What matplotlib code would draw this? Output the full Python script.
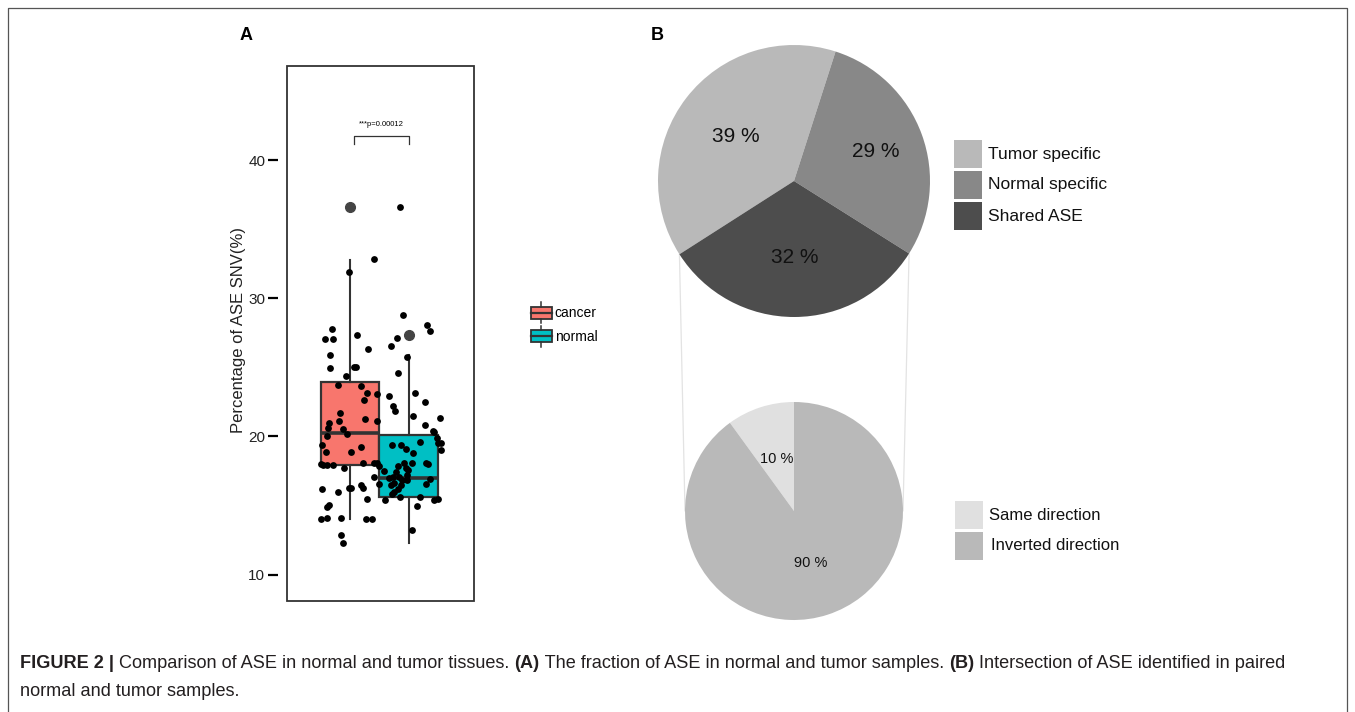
import matplotlib
matplotlib.use("Agg")
import matplotlib.pyplot as plt
from matplotlib.legend_handler import HandlerBase
from matplotlib.patches import Patch, Rectangle, ConnectionPatch
from matplotlib.lines import Line2D
import numpy as np

plt.rcParams["font.family"] = ["Liberation Sans", "DejaVu Sans"]

W, H = 1355, 712

# Panel A: share of ASE SNVs per sample
groups = ["cancer", "normal"]
group_colors = ["#F8766D", "#00BFC4"]
box_q1 = [17.95, 15.62]
box_med = [20.25, 17.00]
box_q3 = [23.92, 20.13]
box_lo = [14.05, 12.33]
box_hi = [32.78, 25.87]
box_out = [[36.63], [27.34]]

point_x = [0.85, 0.41, -0.03, 0.90, 1.31, 1.36, -0.31, -0.44, -0.29, 0.11,
           0.80, -0.35, -0.34, 0.06, 0.10, -0.08, 0.30, 0.69, 0.98, 0.81,
           -0.21, 0.19, 0.67, 1.11, 0.28, 0.45, 0.24, 1.28, 0.73, 0.77,
           1.08, 1.53, -0.18, 0.25, -0.19, -0.36, 0.46, -0.38, -0.13, -0.40,
           -0.06, 1.28, 1.41, 1.43, 1.49, 1.50, 1.55, 1.56, 1.20, 0.72,
           0.87, 0.95, 1.07, -0.48, 0.18, -0.42, 0.01, -0.51, -0.46, -0.40,
           -0.30, -0.11, 0.21, 0.41, 0.46, 0.49, 0.58, 1.30, 1.34, 0.92,
           0.95, 1.05, 0.99, 0.82, 0.79, 0.98, 0.40, 0.66, 0.73, 0.84,
           0.75, 0.89, 0.97, 1.36, 0.50, 0.69, 0.87, 1.30, 0.81, 0.75,
           0.71, 0.86, 0.59, 1.20, 1.44, 1.50, -0.48, -0.21, -0.03, 0.02,
           0.18, 0.21, 0.29, -0.40, -0.36, -0.50, -0.40, -0.16, 0.27, 0.38,
           1.15, -0.16, -0.13, 1.05]
point_y = [36.63, 32.81, 31.90, 28.81, 28.05, 27.65, 27.77, 27.04, 27.04, 27.37,
           27.16, 25.87, 24.94, 25.06, 25.06, 24.35, 26.33, 26.51, 25.75, 24.61,
           23.70, 23.65, 22.96, 23.11, 23.14, 23.04, 22.66, 22.46, 22.20, 21.85,
           21.49, 21.34, 21.70, 21.27, 21.14, 20.96, 21.09, 20.61, 20.51, 20.05,
           20.20, 20.81, 20.38, 20.30, 19.92, 19.54, 19.52, 18.99, 19.57, 19.42,
           19.42, 19.11, 18.78, 19.37, 19.24, 18.86, 18.91, 18.03, 17.92, 17.92,
           17.92, 17.70, 18.05, 18.10, 18.05, 17.85, 17.52, 18.05, 18.03, 18.05,
           17.75, 18.10, 17.59, 17.90, 17.42, 17.19, 17.04, 17.01, 17.04, 17.09,
           16.61, 16.84, 16.84, 16.89, 16.58, 16.51, 16.51, 16.58, 16.18, 16.00,
           15.82, 15.62, 15.42, 15.65, 15.39, 15.47, 16.18, 16.00, 16.28, 16.28,
           16.48, 16.25, 15.49, 14.89, 15.06, 14.05, 14.13, 14.13, 14.00, 14.00,
           14.99, 12.84, 12.33, 13.24]
p_label = "***p=0.00012"

# Panel B: overlap of ASE between paired samples
overlap_labels = ["Tumor specific", "Normal specific", "Shared ASE"]
overlap_pct = [39, 29, 32]
overlap_colors = ["#b9b9b9", "#888888", "#4d4d4d"]
shared_labels = ["Same direction", "Inverted direction"]
shared_pct = [10, 90]
shared_colors = ["#e0e0e0", "#b9b9b9"]


def px_rect(x0, y0, x1, y1):
    return [x0 / W, 1 - y1 / H, (x1 - x0) / W, (y1 - y0) / H]


class BoxKeyHandler(HandlerBase):
    def create_artists(self, legend, orig_handle, xdescent, ydescent,
                       width, height, fontsize, trans):
        x0, y0 = -xdescent, -ydescent
        cx, cy = x0 + width / 2, y0 + height / 2
        box = Rectangle((x0, y0 + 0.22 * height), width, 0.56 * height,
                        facecolor=orig_handle.get_facecolor(),
                        edgecolor="#333333", lw=1.3, transform=trans)
        med = Line2D([x0, x0 + width], [cy, cy], color="#333333", lw=1.6, transform=trans)
        wl = Line2D([cx, cx], [y0, y0 + 0.22 * height], color="#333333", lw=1.1, transform=trans)
        wh = Line2D([cx, cx], [y0 + 0.78 * height, y0 + height], color="#333333", lw=1.1, transform=trans)
        return [box, med, wl, wh]


fig = plt.figure(figsize=(W / 100, H / 100), dpi=100)

# outer frame
fig.add_artist(Line2D([8 / W, 8 / W, 1347 / W, 1347 / W],
                      [0, 1 - 8 / H, 1 - 8 / H, 0],
                      transform=fig.transFigure, color="#555555", lw=0.9))

# ---- panel A ----
ax = fig.add_axes(px_rect(287, 66, 474, 601))
stats = []
for i in range(len(groups)):
    stats.append(dict(med=box_med[i], q1=box_q1[i], q3=box_q3[i],
                      whislo=box_lo[i], whishi=box_hi[i], fliers=box_out[i]))
bp = ax.bxp(stats, positions=[0, 1], widths=1.0, patch_artist=True, showcaps=False,
            boxprops=dict(edgecolor="#333333", lw=1.6),
            whiskerprops=dict(color="#333333", lw=1.5),
            medianprops=dict(color="#333333", lw=2.6),
            flierprops=dict(marker="o", markerfacecolor="#444444",
                            markeredgecolor="#444444", markersize=7))
for patch, col in zip(bp["boxes"], group_colors):
    patch.set_facecolor(col)
ax.scatter(point_x, point_y, s=24, color="black", zorder=4, linewidths=0)

# significance bracket
ax.plot([0.07, 0.07, 1.0, 1.0], [41.14, 41.77, 41.77, 41.14], color="#333333", lw=0.9)
ax.text(0.54, 42.35, p_label, ha="center", va="bottom", fontsize=5.5)

ax.set_xlim(-1.085, 2.12)
ax.set_ylim(8.1, 46.8)
ax.set_xticks([])
ax.set_yticks([10, 20, 30, 40])
ax.tick_params(axis="y", direction="out", length=7.2, width=1.6, pad=2.0,
               labelsize=11, color="black", labelcolor="#222222")
ax.spines["left"].set_position(("outward", 6.5))
for sp in ax.spines.values():
    sp.set_visible(False)
ax.add_patch(Rectangle((0, 0), 1, 1, transform=ax.transAxes, fill=False,
                       edgecolor="#333333", lw=1.3, clip_on=False, zorder=5))
fig.text(239 / W, 1 - 330 / H, "Percentage of ASE SNV(%)", rotation=90,
         ha="center", va="center", fontsize=12, color="#222222")

handles = [Patch(facecolor=c) for c in group_colors]
fig.legend(handles, groups, handler_map={Patch: BoxKeyHandler()},
           loc="upper left", bbox_to_anchor=(531 / W, 1 - 302 / H),
           frameon=False, fontsize=10, handlelength=1.5, handleheight=2.0,
           handletextpad=0.2, labelspacing=0.15, borderpad=0, borderaxespad=0)

fig.text(246 / W, 1 - 35 / H, "A", fontsize=13, fontweight="bold", ha="center", va="center")
fig.text(657 / W, 1 - 35 / H, "B", fontsize=13, fontweight="bold", ha="center", va="center")

# ---- panel B: top pie ----
ax1 = fig.add_axes(px_rect(658, 45, 930, 317))
w1 = ax1.pie(overlap_pct, colors=overlap_colors, startangle=212.6,
             counterclock=False, radius=1.0)[0]
for w, pct, r in zip(w1, overlap_pct, [0.54, 0.64, 0.56]):
    ang = np.deg2rad((w.theta1 + w.theta2) / 2)
    ax1.text(r * np.cos(ang), r * np.sin(ang), f"{pct} %", ha="center",
             va="center", fontsize=15, color="#111111")
ax1.set_xlim(-1, 1)
ax1.set_ylim(-1, 1)
ax1.set_aspect("equal")
ax1.axis("off")

# ---- panel B: bottom pie ----
ax2 = fig.add_axes(px_rect(685, 402, 903, 620))
w2 = ax2.pie(shared_pct, colors=shared_colors, startangle=90, counterclock=True)[0]
for w, pct in zip(w2, shared_pct):
    ang = np.deg2rad((w.theta1 + w.theta2) / 2)
    ax2.text(0.5 * np.cos(ang), 0.5 * np.sin(ang), f"{pct} %", ha="center",
             va="center", fontsize=10.5, color="#111111")
ax2.set_xlim(-1, 1)
ax2.set_ylim(-1, 1)
ax2.set_aspect("equal")
ax2.axis("off")

# guide lines from the shared slice down to the lower pie
shared = w1[2]
for ang, xb in [(shared.theta1, -1.0), (shared.theta2, 1.0)]:
    a = np.deg2rad(ang)
    con = ConnectionPatch(xyA=(np.cos(a), np.sin(a)), coordsA=ax1.transData,
                          xyB=(xb, 0.0), coordsB=ax2.transData,
                          color="#e3e3e3", lw=0.9, zorder=0)
    fig.add_artist(con)

# legends for pies
for i, (lab, col) in enumerate(zip(overlap_labels, overlap_colors)):
    y0 = 140 + i * 31
    fig.add_artist(Rectangle((954 / W, 1 - (y0 + 28) / H), 28 / W, 28 / H,
                             transform=fig.transFigure, facecolor=col, edgecolor="none"))
    fig.text(988 / W, 1 - (y0 + 14) / H, lab, fontsize=12.5, va="center", color="#111111")
for i, (lab, col) in enumerate(zip(shared_labels, shared_colors)):
    y0 = 501 + i * 31
    fig.add_artist(Rectangle((955 / W, 1 - (y0 + 28) / H), 28 / W, 28 / H,
                             transform=fig.transFigure, facecolor=col, edgecolor="none"))
    fig.text((989 + 2 * i) / W, 1 - (y0 + 14) / H, lab, fontsize=12, va="center", color="#111111")

# ---- caption ----
cap_lines = [
    [("FIGURE 2 |", "bold"), (" Comparison of ASE in normal and tumor tissues. ", "normal"),
     ("(A)", "bold"), (" The fraction of ASE in normal and tumor samples. ", "normal"),
     ("(B)", "bold"), (" Intersection of ASE identified in paired", "normal")],
    [("normal and tumor samples.", "normal")],
]
renderer = fig.canvas.get_renderer()
cap_y = [663, 692]
for parts, yy in zip(cap_lines, cap_y):
    x = 20
    for txt, wt in parts:
        t = fig.text(x / W, 1 - yy / H, txt, fontsize=13.1, fontweight=wt,
                     va="center", ha="left", color="#231f20")
        x += t.get_window_extent(renderer).width

fig.savefig("out.png", dpi=100)
